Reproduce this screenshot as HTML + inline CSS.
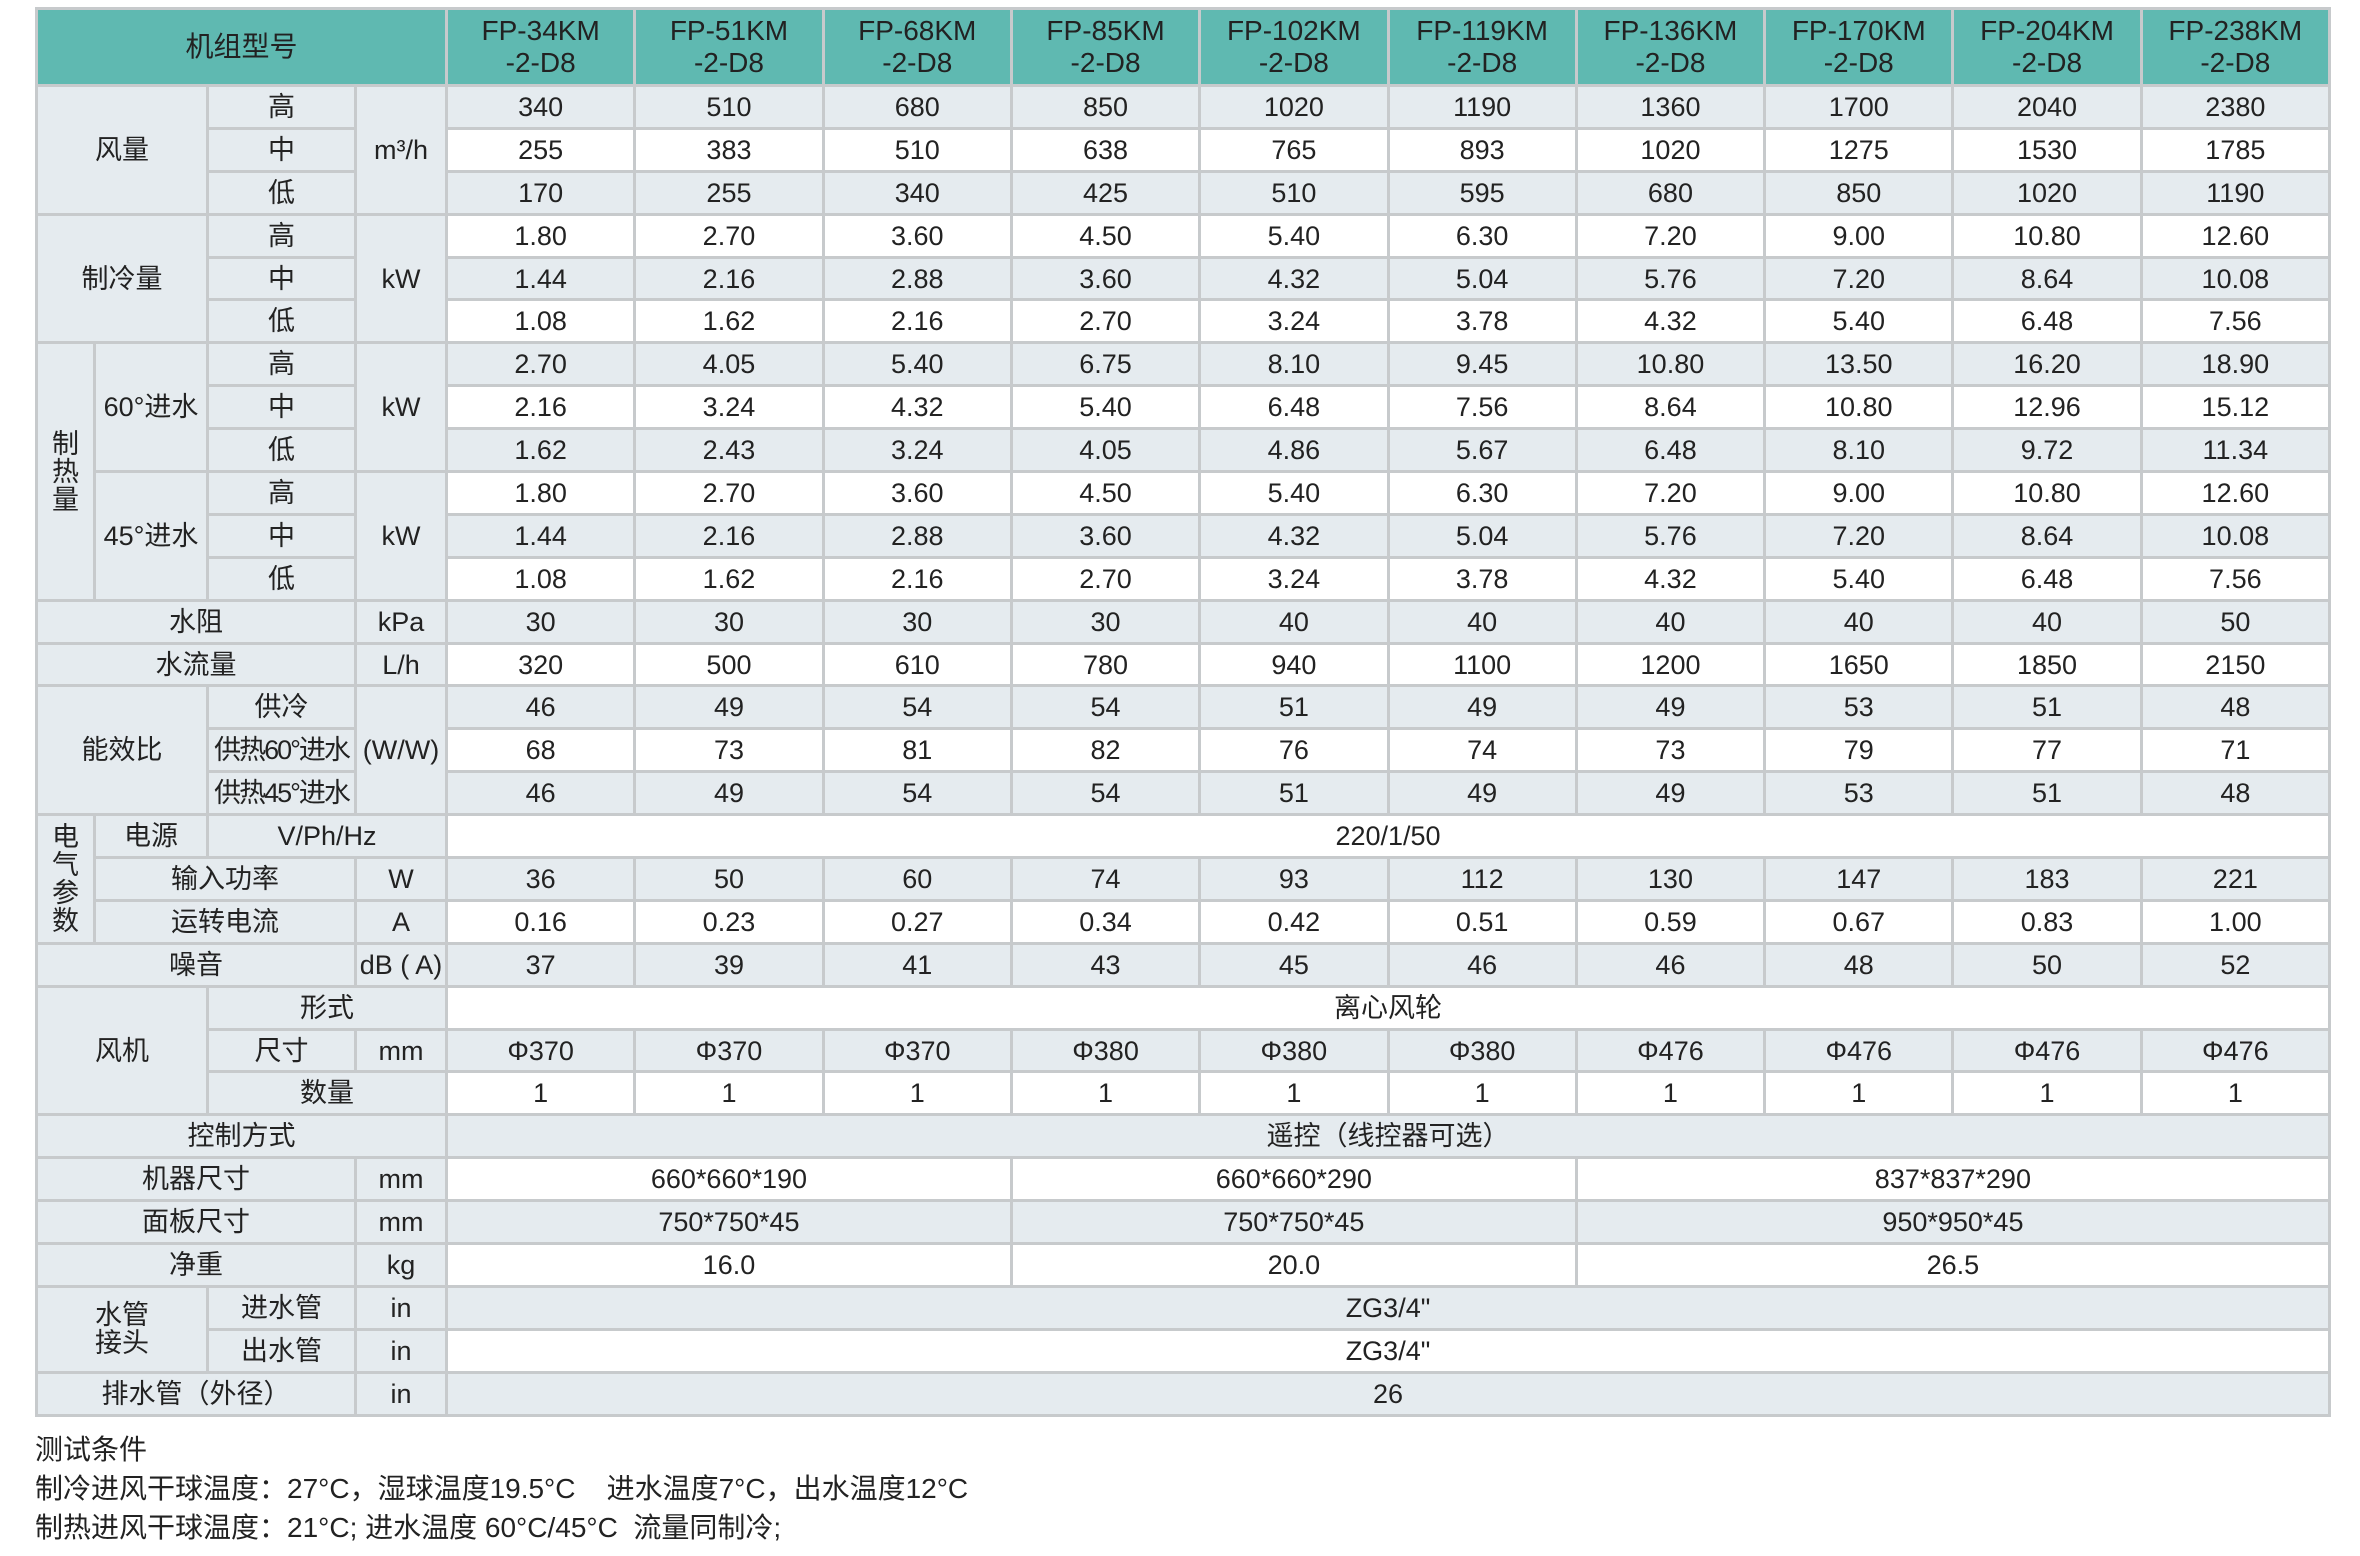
<!DOCTYPE html>
<html><head><meta charset="utf-8">
<style>
html,body{margin:0;padding:0;background:#fff;width:2360px;height:1556px;overflow:hidden}
body{font-family:"Liberation Sans Narrow","Liberation Sans","Noto Sans CJK SC",sans-serif;color:#222}
table{position:absolute;left:35px;top:7px;border-collapse:collapse;table-layout:fixed;width:2293px}
td{border:3px solid #c7cacc;text-align:center;vertical-align:middle;font-size:27px;padding:0;height:39.9px;line-height:30px;white-space:nowrap;overflow:hidden}
tr.h td{background:#5fb9b1;height:74px;font-size:28px;line-height:32px}
tr.g td{background:#e5ebef}
tr.w td{background:#fff}
td.l{background:#e5ebef !important}
.v{line-height:28px;white-space:normal}
.notes{position:absolute;left:35px;top:1430px;font-size:28px;line-height:39px;font-family:"Liberation Sans Narrow","Liberation Sans","Noto Sans CJK SC",sans-serif;color:#222}
</style></head><body>
<table>
<colgroup><col style="width:58px"><col style="width:113px"><col style="width:148px"><col style="width:91px">
<col style="width:188.3px"><col style="width:188.3px"><col style="width:188.3px"><col style="width:188.3px"><col style="width:188.3px"><col style="width:188.3px"><col style="width:188.3px"><col style="width:188.3px"><col style="width:188.3px"><col style="width:188.3px"></colgroup>
<tr class="h"><td colspan="4">机组型号</td><td>FP-34KM<br>-2-D8</td><td>FP-51KM<br>-2-D8</td><td>FP-68KM<br>-2-D8</td><td>FP-85KM<br>-2-D8</td><td>FP-102KM<br>-2-D8</td><td>FP-119KM<br>-2-D8</td><td>FP-136KM<br>-2-D8</td><td>FP-170KM<br>-2-D8</td><td>FP-204KM<br>-2-D8</td><td>FP-238KM<br>-2-D8</td></tr>
<tr class="g"><td class="l" colspan="2" rowspan="3">风量</td><td class="l">高</td><td class="l" rowspan="3">m³/h</td><td>340</td><td>510</td><td>680</td><td>850</td><td>1020</td><td>1190</td><td>1360</td><td>1700</td><td>2040</td><td>2380</td></tr>
<tr class="w"><td class="l">中</td><td>255</td><td>383</td><td>510</td><td>638</td><td>765</td><td>893</td><td>1020</td><td>1275</td><td>1530</td><td>1785</td></tr>
<tr class="g"><td class="l">低</td><td>170</td><td>255</td><td>340</td><td>425</td><td>510</td><td>595</td><td>680</td><td>850</td><td>1020</td><td>1190</td></tr>
<tr class="w"><td class="l" colspan="2" rowspan="3">制冷量</td><td class="l">高</td><td class="l" rowspan="3">kW</td><td>1.80</td><td>2.70</td><td>3.60</td><td>4.50</td><td>5.40</td><td>6.30</td><td>7.20</td><td>9.00</td><td>10.80</td><td>12.60</td></tr>
<tr class="g"><td class="l">中</td><td>1.44</td><td>2.16</td><td>2.88</td><td>3.60</td><td>4.32</td><td>5.04</td><td>5.76</td><td>7.20</td><td>8.64</td><td>10.08</td></tr>
<tr class="w"><td class="l">低</td><td>1.08</td><td>1.62</td><td>2.16</td><td>2.70</td><td>3.24</td><td>3.78</td><td>4.32</td><td>5.40</td><td>6.48</td><td>7.56</td></tr>
<tr class="g"><td class="l v" rowspan="6">制<br>热<br>量</td><td class="l" rowspan="3">60°进水</td><td class="l">高</td><td class="l" rowspan="3">kW</td><td>2.70</td><td>4.05</td><td>5.40</td><td>6.75</td><td>8.10</td><td>9.45</td><td>10.80</td><td>13.50</td><td>16.20</td><td>18.90</td></tr>
<tr class="w"><td class="l">中</td><td>2.16</td><td>3.24</td><td>4.32</td><td>5.40</td><td>6.48</td><td>7.56</td><td>8.64</td><td>10.80</td><td>12.96</td><td>15.12</td></tr>
<tr class="g"><td class="l">低</td><td>1.62</td><td>2.43</td><td>3.24</td><td>4.05</td><td>4.86</td><td>5.67</td><td>6.48</td><td>8.10</td><td>9.72</td><td>11.34</td></tr>
<tr class="w"><td class="l" rowspan="3">45°进水</td><td class="l">高</td><td class="l" rowspan="3">kW</td><td>1.80</td><td>2.70</td><td>3.60</td><td>4.50</td><td>5.40</td><td>6.30</td><td>7.20</td><td>9.00</td><td>10.80</td><td>12.60</td></tr>
<tr class="g"><td class="l">中</td><td>1.44</td><td>2.16</td><td>2.88</td><td>3.60</td><td>4.32</td><td>5.04</td><td>5.76</td><td>7.20</td><td>8.64</td><td>10.08</td></tr>
<tr class="w"><td class="l">低</td><td>1.08</td><td>1.62</td><td>2.16</td><td>2.70</td><td>3.24</td><td>3.78</td><td>4.32</td><td>5.40</td><td>6.48</td><td>7.56</td></tr>
<tr class="g"><td class="l" colspan="3">水阻</td><td class="l">kPa</td><td>30</td><td>30</td><td>30</td><td>30</td><td>40</td><td>40</td><td>40</td><td>40</td><td>40</td><td>50</td></tr>
<tr class="w"><td class="l" colspan="3">水流量</td><td class="l">L/h</td><td>320</td><td>500</td><td>610</td><td>780</td><td>940</td><td>1100</td><td>1200</td><td>1650</td><td>1850</td><td>2150</td></tr>
<tr class="g"><td class="l" colspan="2" rowspan="3">能效比</td><td class="l">供冷</td><td class="l" rowspan="3">(W/W)</td><td>46</td><td>49</td><td>54</td><td>54</td><td>51</td><td>49</td><td>49</td><td>53</td><td>51</td><td>48</td></tr>
<tr class="w"><td class="l" style="letter-spacing:-2px">供热60°进水</td><td>68</td><td>73</td><td>81</td><td>82</td><td>76</td><td>74</td><td>73</td><td>79</td><td>77</td><td>71</td></tr>
<tr class="g"><td class="l" style="letter-spacing:-2px">供热45°进水</td><td>46</td><td>49</td><td>54</td><td>54</td><td>51</td><td>49</td><td>49</td><td>53</td><td>51</td><td>48</td></tr>
<tr class="w"><td class="l v" rowspan="3">电<br>气<br>参<br>数</td><td class="l">电源</td><td class="l" colspan="2">V/Ph/Hz</td><td colspan="10">220/1/50</td></tr>
<tr class="g"><td class="l" colspan="2">输入功率</td><td class="l">W</td><td>36</td><td>50</td><td>60</td><td>74</td><td>93</td><td>112</td><td>130</td><td>147</td><td>183</td><td>221</td></tr>
<tr class="w"><td class="l" colspan="2">运转电流</td><td class="l">A</td><td>0.16</td><td>0.23</td><td>0.27</td><td>0.34</td><td>0.42</td><td>0.51</td><td>0.59</td><td>0.67</td><td>0.83</td><td>1.00</td></tr>
<tr class="g"><td class="l" colspan="3">噪音</td><td class="l">dB ( A)</td><td>37</td><td>39</td><td>41</td><td>43</td><td>45</td><td>46</td><td>46</td><td>48</td><td>50</td><td>52</td></tr>
<tr class="w"><td class="l" colspan="2" rowspan="3">风机</td><td class="l" colspan="2">形式</td><td colspan="10">离心风轮</td></tr>
<tr class="g"><td class="l">尺寸</td><td class="l">mm</td><td>Φ370</td><td>Φ370</td><td>Φ370</td><td>Φ380</td><td>Φ380</td><td>Φ380</td><td>Φ476</td><td>Φ476</td><td>Φ476</td><td>Φ476</td></tr>
<tr class="w"><td class="l" colspan="2">数量</td><td>1</td><td>1</td><td>1</td><td>1</td><td>1</td><td>1</td><td>1</td><td>1</td><td>1</td><td>1</td></tr>
<tr class="g"><td class="l" colspan="4">控制方式</td><td colspan="10">遥控（线控器可选）</td></tr>
<tr class="w"><td class="l" colspan="3">机器尺寸</td><td class="l">mm</td><td colspan="3">660*660*190</td><td colspan="3">660*660*290</td><td colspan="4">837*837*290</td></tr>
<tr class="g"><td class="l" colspan="3">面板尺寸</td><td class="l">mm</td><td colspan="3">750*750*45</td><td colspan="3">750*750*45</td><td colspan="4">950*950*45</td></tr>
<tr class="w"><td class="l" colspan="3">净重</td><td class="l">kg</td><td colspan="3">16.0</td><td colspan="3">20.0</td><td colspan="4">26.5</td></tr>
<tr class="g"><td class="l v" colspan="2" rowspan="2">水管<br>接头</td><td class="l">进水管</td><td class="l">in</td><td colspan="10">ZG3/4"</td></tr>
<tr class="w"><td class="l">出水管</td><td class="l">in</td><td colspan="10">ZG3/4"</td></tr>
<tr class="g"><td class="l" colspan="3">排水管（外径）</td><td class="l">in</td><td colspan="10">26</td></tr>
</table>
<div class="notes">测试条件<br>制冷进风干球温度：27°C，湿球温度19.5°C&nbsp;&nbsp;&nbsp;&nbsp;进水温度7°C，出水温度12°C<br>制热进风干球温度：21°C; 进水温度 60°C/45°C&nbsp;&nbsp;流量同制冷;</div>
</body></html>
